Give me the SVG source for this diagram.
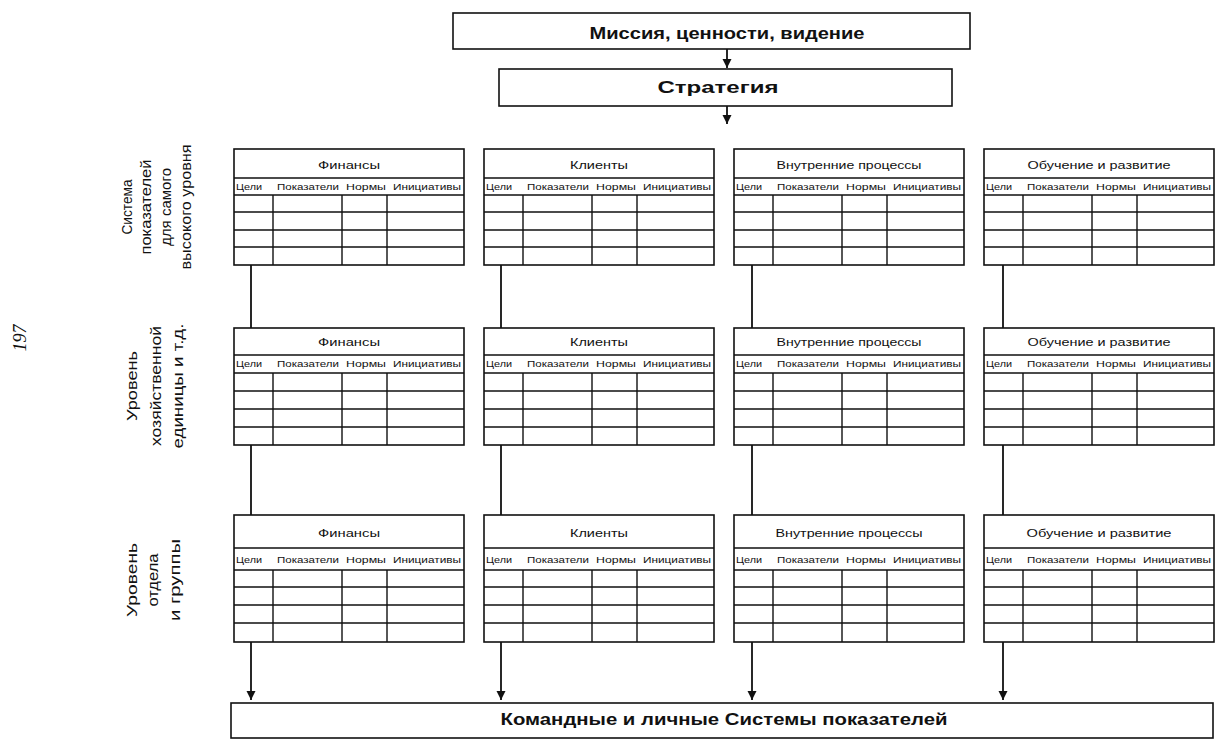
<svg xmlns="http://www.w3.org/2000/svg" xmlns:xlink="http://www.w3.org/1999/xlink" width="1216" height="742" viewBox="0 0 1216 742">
  <style>
    .box { fill: #fff; stroke: #111; stroke-width: 1.6; }
    .grid { fill: none; stroke: #111; stroke-width: 1.4; }
    .conn { fill: none; stroke: #111; stroke-width: 1.8; }
    text { fill: #111; font-family: "Liberation Sans", "DejaVu Sans", sans-serif; }
    .t-main { font-weight: 700; font-size: 16.5px; text-anchor: middle; }
    .t-title { font-size: 11.5px; text-anchor: middle; }
    .t-hdr { font-size: 9px; text-anchor: middle; }
    .t-side { font-size: 15px; text-anchor: middle; }
    .t-page { font-family: "Liberation Serif", serif; font-style: italic; font-size: 18px; text-anchor: middle; }
  </style>
  <defs>
    <marker id="arrow" viewBox="0 0 10 10" refX="10" refY="5" markerUnits="userSpaceOnUse" markerWidth="9" markerHeight="11" orient="auto">
      <path d="M0,0 L10,5 L0,10 Z" fill="#111"/>
    </marker>
    <!-- table grids: title row, header row, four data rows, four columns -->
    <g id="grid-l1">
      <rect class="box" x="0" y="0" width="230" height="116"/>
      <path class="grid" d="M0,29H230M0,46H230M0,63H230M0,81H230M0,98H230M39,46V116M108,46V116M153,46V116"/>
    </g>
    <g id="grid-l2">
      <rect class="box" x="0" y="0" width="230" height="117"/>
      <path class="grid" d="M0,27H230M0,45H230M0,63H230M0,81H230M0,99H230M39,45V117M108,45V117M153,45V117"/>
    </g>
    <g id="grid-l3">
      <rect class="box" x="0" y="0" width="230" height="127"/>
      <path class="grid" d="M0,33H230M0,55H230M0,72H230M0,90H230M0,108H230M39,55V127M108,55V127M153,55V127"/>
    </g>
  </defs>

  <rect width="1216" height="742" fill="#fff"/>

  <!-- connectors -->
  <g id="connectors">
    <line class="conn" x1="727" y1="49" x2="727" y2="68" marker-end="url(#arrow)"/>
    <line class="conn" x1="727" y1="106" x2="727" y2="124" marker-end="url(#arrow)"/>
    <path class="conn" d="M251,265V328M501,265V328M752,265V328M1003,265V328"/>
    <path class="conn" d="M251,445V515M501,445V515M752,445V515M1003,445V515"/>
    <line class="conn" x1="251" y1="642" x2="251" y2="700" marker-end="url(#arrow)"/>
    <line class="conn" x1="501" y1="642" x2="501" y2="700" marker-end="url(#arrow)"/>
    <line class="conn" x1="752" y1="642" x2="752" y2="700" marker-end="url(#arrow)"/>
    <line class="conn" x1="1003" y1="642" x2="1003" y2="700" marker-end="url(#arrow)"/>
  </g>

  <!-- top boxes -->
  <g id="mission">
    <rect class="box" x="453" y="13" width="517" height="36"/>
    <text class="t-main" x="727" y="39" textLength="275" lengthAdjust="spacingAndGlyphs">Миссия, ценности, видение</text>
  </g>
  <g id="strategy">
    <rect class="box" x="499" y="69" width="453" height="37"/>
    <text class="t-main" x="718" y="93" textLength="121" lengthAdjust="spacingAndGlyphs">Стратегия</text>
  </g>

  <!-- level 1 -->
  <g id="l1-finance" transform="translate(234,149)">
    <use xlink:href="#grid-l1"/>
    <text class="t-title" x="115" y="20" textLength="62" lengthAdjust="spacingAndGlyphs">Финансы</text>
    <text class="t-hdr" x="15" y="41" textLength="26" lengthAdjust="spacingAndGlyphs">Цели</text>
    <text class="t-hdr" x="74" y="41" textLength="62" lengthAdjust="spacingAndGlyphs">Показатели</text>
    <text class="t-hdr" x="132" y="41" textLength="40" lengthAdjust="spacingAndGlyphs">Нормы</text>
    <text class="t-hdr" x="193" y="41" textLength="68" lengthAdjust="spacingAndGlyphs">Инициативы</text>
  </g>
  <g id="l1-clients" transform="translate(484,149)">
    <use xlink:href="#grid-l1"/>
    <text class="t-title" x="115" y="20" textLength="58" lengthAdjust="spacingAndGlyphs">Клиенты</text>
    <text class="t-hdr" x="15" y="41" textLength="26" lengthAdjust="spacingAndGlyphs">Цели</text>
    <text class="t-hdr" x="74" y="41" textLength="62" lengthAdjust="spacingAndGlyphs">Показатели</text>
    <text class="t-hdr" x="132" y="41" textLength="40" lengthAdjust="spacingAndGlyphs">Нормы</text>
    <text class="t-hdr" x="193" y="41" textLength="68" lengthAdjust="spacingAndGlyphs">Инициативы</text>
  </g>
  <g id="l1-processes" transform="translate(734,149)">
    <use xlink:href="#grid-l1"/>
    <text class="t-title" x="115" y="20" textLength="145" lengthAdjust="spacingAndGlyphs">Внутренние процессы</text>
    <text class="t-hdr" x="15" y="41" textLength="26" lengthAdjust="spacingAndGlyphs">Цели</text>
    <text class="t-hdr" x="74" y="41" textLength="62" lengthAdjust="spacingAndGlyphs">Показатели</text>
    <text class="t-hdr" x="132" y="41" textLength="40" lengthAdjust="spacingAndGlyphs">Нормы</text>
    <text class="t-hdr" x="193" y="41" textLength="68" lengthAdjust="spacingAndGlyphs">Инициативы</text>
  </g>
  <g id="l1-learning" transform="translate(984,149)">
    <use xlink:href="#grid-l1"/>
    <text class="t-title" x="115" y="20" textLength="143" lengthAdjust="spacingAndGlyphs">Обучение и развитие</text>
    <text class="t-hdr" x="15" y="41" textLength="26" lengthAdjust="spacingAndGlyphs">Цели</text>
    <text class="t-hdr" x="74" y="41" textLength="62" lengthAdjust="spacingAndGlyphs">Показатели</text>
    <text class="t-hdr" x="132" y="41" textLength="40" lengthAdjust="spacingAndGlyphs">Нормы</text>
    <text class="t-hdr" x="193" y="41" textLength="68" lengthAdjust="spacingAndGlyphs">Инициативы</text>
  </g>

  <!-- level 2 -->
  <g id="l2-finance" transform="translate(234,328)">
    <use xlink:href="#grid-l2"/>
    <text class="t-title" x="115" y="18" textLength="62" lengthAdjust="spacingAndGlyphs">Финансы</text>
    <text class="t-hdr" x="15" y="39" textLength="26" lengthAdjust="spacingAndGlyphs">Цели</text>
    <text class="t-hdr" x="74" y="39" textLength="62" lengthAdjust="spacingAndGlyphs">Показатели</text>
    <text class="t-hdr" x="132" y="39" textLength="40" lengthAdjust="spacingAndGlyphs">Нормы</text>
    <text class="t-hdr" x="193" y="39" textLength="68" lengthAdjust="spacingAndGlyphs">Инициативы</text>
  </g>
  <g id="l2-clients" transform="translate(484,328)">
    <use xlink:href="#grid-l2"/>
    <text class="t-title" x="115" y="18" textLength="58" lengthAdjust="spacingAndGlyphs">Клиенты</text>
    <text class="t-hdr" x="15" y="39" textLength="26" lengthAdjust="spacingAndGlyphs">Цели</text>
    <text class="t-hdr" x="74" y="39" textLength="62" lengthAdjust="spacingAndGlyphs">Показатели</text>
    <text class="t-hdr" x="132" y="39" textLength="40" lengthAdjust="spacingAndGlyphs">Нормы</text>
    <text class="t-hdr" x="193" y="39" textLength="68" lengthAdjust="spacingAndGlyphs">Инициативы</text>
  </g>
  <g id="l2-processes" transform="translate(734,328)">
    <use xlink:href="#grid-l2"/>
    <text class="t-title" x="115" y="18" textLength="145" lengthAdjust="spacingAndGlyphs">Внутренние процессы</text>
    <text class="t-hdr" x="15" y="39" textLength="26" lengthAdjust="spacingAndGlyphs">Цели</text>
    <text class="t-hdr" x="74" y="39" textLength="62" lengthAdjust="spacingAndGlyphs">Показатели</text>
    <text class="t-hdr" x="132" y="39" textLength="40" lengthAdjust="spacingAndGlyphs">Нормы</text>
    <text class="t-hdr" x="193" y="39" textLength="68" lengthAdjust="spacingAndGlyphs">Инициативы</text>
  </g>
  <g id="l2-learning" transform="translate(984,328)">
    <use xlink:href="#grid-l2"/>
    <text class="t-title" x="115" y="18" textLength="143" lengthAdjust="spacingAndGlyphs">Обучение и развитие</text>
    <text class="t-hdr" x="15" y="39" textLength="26" lengthAdjust="spacingAndGlyphs">Цели</text>
    <text class="t-hdr" x="74" y="39" textLength="62" lengthAdjust="spacingAndGlyphs">Показатели</text>
    <text class="t-hdr" x="132" y="39" textLength="40" lengthAdjust="spacingAndGlyphs">Нормы</text>
    <text class="t-hdr" x="193" y="39" textLength="68" lengthAdjust="spacingAndGlyphs">Инициативы</text>
  </g>

  <!-- level 3 -->
  <g id="l3-finance" transform="translate(234,515)">
    <use xlink:href="#grid-l3"/>
    <text class="t-title" x="115" y="22" textLength="62" lengthAdjust="spacingAndGlyphs">Финансы</text>
    <text class="t-hdr" x="15" y="48" textLength="26" lengthAdjust="spacingAndGlyphs">Цели</text>
    <text class="t-hdr" x="74" y="48" textLength="62" lengthAdjust="spacingAndGlyphs">Показатели</text>
    <text class="t-hdr" x="132" y="48" textLength="40" lengthAdjust="spacingAndGlyphs">Нормы</text>
    <text class="t-hdr" x="193" y="48" textLength="68" lengthAdjust="spacingAndGlyphs">Инициативы</text>
  </g>
  <g id="l3-clients" transform="translate(484,515)">
    <use xlink:href="#grid-l3"/>
    <text class="t-title" x="115" y="22" textLength="58" lengthAdjust="spacingAndGlyphs">Клиенты</text>
    <text class="t-hdr" x="15" y="48" textLength="26" lengthAdjust="spacingAndGlyphs">Цели</text>
    <text class="t-hdr" x="74" y="48" textLength="62" lengthAdjust="spacingAndGlyphs">Показатели</text>
    <text class="t-hdr" x="132" y="48" textLength="40" lengthAdjust="spacingAndGlyphs">Нормы</text>
    <text class="t-hdr" x="193" y="48" textLength="68" lengthAdjust="spacingAndGlyphs">Инициативы</text>
  </g>
  <g id="l3-processes" transform="translate(734,515)">
    <use xlink:href="#grid-l3"/>
    <text class="t-title" x="115" y="22" textLength="147" lengthAdjust="spacingAndGlyphs">Внутренние процессы</text>
    <text class="t-hdr" x="15" y="48" textLength="26" lengthAdjust="spacingAndGlyphs">Цели</text>
    <text class="t-hdr" x="74" y="48" textLength="62" lengthAdjust="spacingAndGlyphs">Показатели</text>
    <text class="t-hdr" x="132" y="48" textLength="40" lengthAdjust="spacingAndGlyphs">Нормы</text>
    <text class="t-hdr" x="193" y="48" textLength="68" lengthAdjust="spacingAndGlyphs">Инициативы</text>
  </g>
  <g id="l3-learning" transform="translate(984,515)">
    <use xlink:href="#grid-l3"/>
    <text class="t-title" x="115" y="22" textLength="145" lengthAdjust="spacingAndGlyphs">Обучение и развитие</text>
    <text class="t-hdr" x="15" y="48" textLength="26" lengthAdjust="spacingAndGlyphs">Цели</text>
    <text class="t-hdr" x="74" y="48" textLength="62" lengthAdjust="spacingAndGlyphs">Показатели</text>
    <text class="t-hdr" x="132" y="48" textLength="40" lengthAdjust="spacingAndGlyphs">Нормы</text>
    <text class="t-hdr" x="193" y="48" textLength="68" lengthAdjust="spacingAndGlyphs">Инициативы</text>
  </g>

  <!-- bottom box -->
  <g id="team-scorecards">
    <rect class="box" x="231" y="703" width="982" height="35"/>
    <text class="t-main" x="724" y="725" textLength="447" lengthAdjust="spacingAndGlyphs">Командные и личные Системы показателей</text>
  </g>

  <!-- level captions, set vertically -->
  <g id="label-top-level">
    <text class="t-side" transform="translate(132,207) rotate(-90)" textLength="55" lengthAdjust="spacingAndGlyphs">Система</text>
    <text class="t-side" transform="translate(151,207) rotate(-90)" textLength="95" lengthAdjust="spacingAndGlyphs">показателей</text>
    <text class="t-side" transform="translate(171,207) rotate(-90)" textLength="78" lengthAdjust="spacingAndGlyphs">для самого</text>
    <text class="t-side" transform="translate(191,207) rotate(-90)" textLength="125" lengthAdjust="spacingAndGlyphs">высокого уровня</text>
  </g>
  <g id="label-unit-level">
    <text class="t-side" transform="translate(137,386) rotate(-90)" textLength="70" lengthAdjust="spacingAndGlyphs">Уровень</text>
    <text class="t-side" transform="translate(161,386) rotate(-90)" textLength="120" lengthAdjust="spacingAndGlyphs">хозяйственной</text>
    <text class="t-side" transform="translate(183,386) rotate(-90)" textLength="125" lengthAdjust="spacingAndGlyphs">единицы и т.д.</text>
  </g>
  <g id="label-team-level">
    <text class="t-side" transform="translate(137,580) rotate(-90)" textLength="74" lengthAdjust="spacingAndGlyphs">Уровень</text>
    <text class="t-side" transform="translate(158,580) rotate(-90)" textLength="53" lengthAdjust="spacingAndGlyphs">отдела</text>
    <text class="t-side" transform="translate(180,580) rotate(-90)" textLength="82" lengthAdjust="spacingAndGlyphs">и группы</text>
  </g>

  <!-- page number -->
  <g id="page-number">
    <text class="t-page" transform="translate(26,338) rotate(-90)">197</text>
  </g>
</svg>
